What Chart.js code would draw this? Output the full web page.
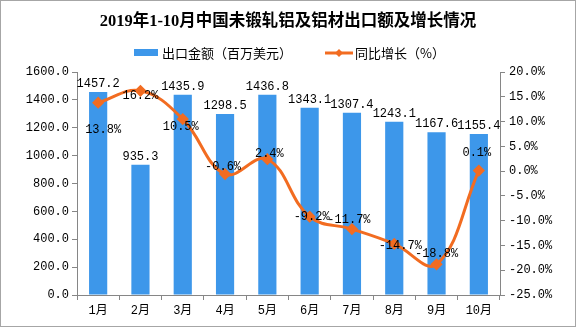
<!DOCTYPE html>
<html>
<head>
<meta charset="utf-8">
<script src="https://cdn.jsdelivr.net/npm/chart.js@4.4.0/dist/chart.umd.min.js"></script>
<style>
  html, body { margin: 0; padding: 0; background: #fff; }
  #wrap { width: 574px; height: 325px; border: 1px solid #a6a6a6; }
</style>
</head>
<body>
<div id="wrap"><canvas id="chartcanvas" width="574" height="325"></canvas></div>
<script>
var months = ["1月", "2月", "3月", "4月", "5月", "6月", "7月", "8月", "9月", "10月"];
var exportValue = [1457.2, 935.3, 1435.9, 1298.5, 1436.8, 1343.1, 1307.4, 1243.1, 1167.6, 1155.4];
var growthRate = [13.8, 16.2, 10.5, -0.6, 2.4, -9.2, -11.7, -14.7, -18.8, 0.1];

var titleText = "2019年1-10月中国未锻轧铝及铝材出口额及增长情况";
var barName = "出口金额（百万美元）";
var lineName = "同比增长（%）";

var blue = "#3d97ea";
var orange = "#f26c21";
var numFont = '"Liberation Mono", "Noto Sans CJK SC", monospace';
var cjkFont = '"Noto Sans CJK SC", sans-serif';

// title, legend and value labels drawn on the canvas
var decorations = {
	id: 'decorations',
	afterDatasetsDraw: function(chart, args, opts) {
		var ctx = chart.ctx;
		ctx.save();
		ctx.fillStyle = '#000';
		ctx.font = '12px ' + numFont;
		ctx.textAlign = 'center';

		var bars = chart.getDatasetMeta(0).data;
		ctx.textBaseline = 'bottom';
		for (var i = 0; i < bars.length; i++) {
			ctx.fillText(exportValue[i].toFixed(1), bars[i].x, bars[i].y - 2);
		}

		var pts = chart.getDatasetMeta(1).data;
		ctx.textBaseline = 'middle';
		for (var j = 0; j < pts.length; j++) {
			ctx.fillText(growthRate[j].toFixed(1) + '%', pts[j].x + opts.dx[j], pts[j].y + opts.dy[j]);
		}
		ctx.restore();
	},
	afterDraw: function(chart) {
		var ctx = chart.ctx;
		ctx.save();
		// title
		ctx.fillStyle = '#000';
		ctx.textAlign = 'center';
		ctx.textBaseline = 'middle';
		ctx.font = 'bold 16.5px "Liberation Serif", "Noto Sans CJK SC", serif';
		ctx.fillText(titleText, 287, 21);

		// legend
		ctx.textAlign = 'left';
		ctx.font = '13px ' + cjkFont;
		ctx.fillStyle = blue;
		ctx.fillRect(133, 48, 24, 7);
		ctx.fillStyle = '#000';
		ctx.fillText(barName, 161, 52);

		ctx.strokeStyle = orange;
		ctx.lineWidth = 3;
		ctx.beginPath();
		ctx.moveTo(324, 52);
		ctx.lineTo(352, 52);
		ctx.stroke();
		ctx.fillStyle = orange;
		ctx.beginPath();
		ctx.moveTo(338, 48);
		ctx.lineTo(342, 52);
		ctx.lineTo(338, 56);
		ctx.lineTo(334, 52);
		ctx.closePath();
		ctx.fill();
		ctx.fillStyle = '#000';
		ctx.fillText(lineName, 354, 52);
		ctx.restore();
	}
};

var chartdata = {
	labels: months,
	datasets: [
		{
			type: 'bar',
			label: barName,
			backgroundColor: blue,
			borderWidth: 0,
			barPercentage: 0.43,
			categoryPercentage: 1.0,
			yAxisID: 'y',
			order: 2,
			data: exportValue
		},
		{
			type: 'line',
			label: lineName,
			borderColor: orange,
			backgroundColor: orange,
			borderWidth: 3,
			tension: 0.4,
			pointStyle: 'rectRot',
			pointRadius: 4,
			pointBackgroundColor: orange,
			yAxisID: 'y1',
			order: 1,
			data: growthRate
		}
	]
};

var ctx = document.getElementById('chartcanvas');

var ComboGraph = new Chart(ctx, {
	data: chartdata,
	plugins: [decorations],
	options: {
		responsive: false,
		animation: false,
		layout: { padding: { left: 0, right: 0, top: 71, bottom: 0 } },
		plugins: {
			title: { display: false },
			legend: { display: false },
			tooltip: { enabled: false },
			decorations: {
				dx: [5, 0, -2, -2, 2, 2, -3, 6, 0, -2],
				dy: [27, 5, 8, -7, -5, 0, -9, 2, -10, -18]
			}
		},
		scales: {
			x: {
				offset: true,
				afterFit: function(s) { s.height = 31; },
				grid: { display: true, drawOnChartArea: false, offset: true, tickLength: 5, color: '#868686' },
				border: { color: '#868686' },
				ticks: { color: '#000', padding: 4, font: { family: numFont, size: 12 } }
			},
			y: {
				position: 'left',
				min: 0,
				max: 1600,
				afterFit: function(s) { s.width = 76; },
				grid: { display: true, drawOnChartArea: false, tickLength: 5, color: '#868686' },
				border: { color: '#868686' },
				ticks: {
					stepSize: 200,
					color: '#000',
					padding: 3,
					font: { family: numFont, size: 12 },
					callback: function(v) { return v.toFixed(1); }
				}
			},
			y1: {
				position: 'right',
				min: -25,
				max: 20,
				afterFit: function(s) { s.width = 75; },
				grid: { display: true, drawOnChartArea: false, tickLength: 5, color: '#868686' },
				border: { color: '#868686' },
				ticks: {
					stepSize: 5,
					color: '#000',
					padding: 4,
					font: { family: numFont, size: 12 },
					callback: function(v) { return v.toFixed(1) + '%'; }
				}
			}
		}
	}
});
</script>
</body>
</html>
